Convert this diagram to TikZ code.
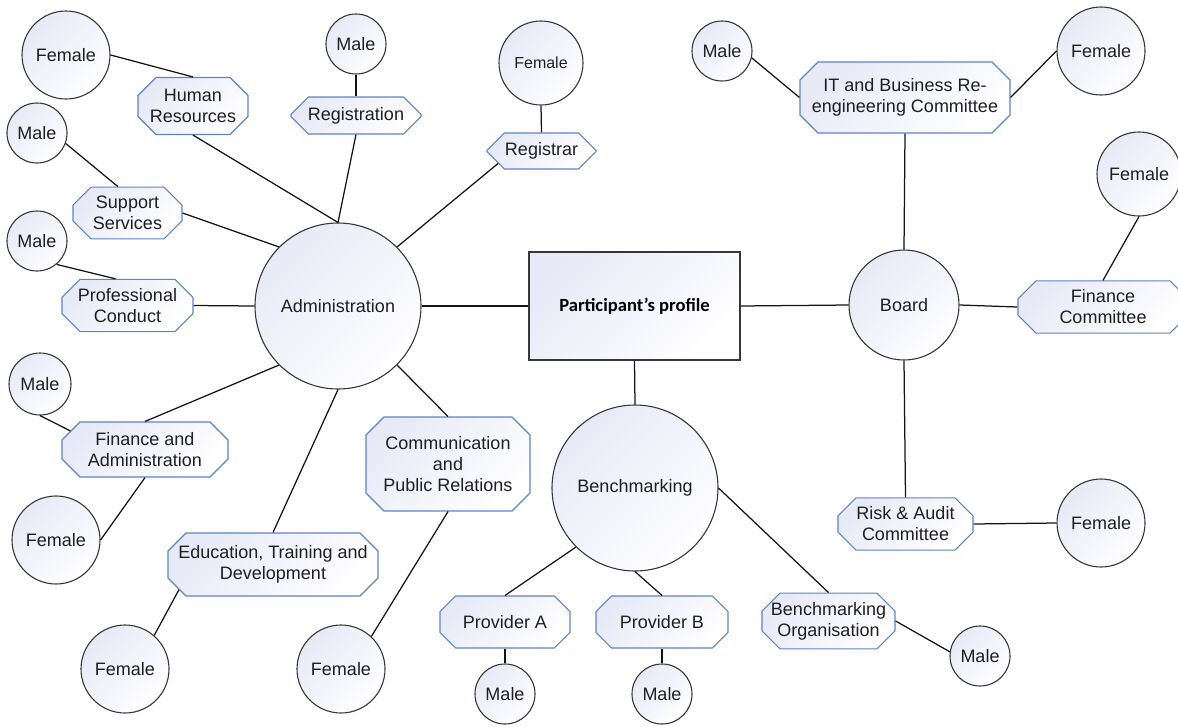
\documentclass[tikz,border=0pt]{standalone}
\usepackage{fontspec}
\setmainfont{Liberation Sans}
\newfontfamily\calib{Carlito}
\usetikzlibrary{shapes.misc}

\definecolor{octline}{RGB}{92,132,200}
\definecolor{lav}{RGB}{231,233,247}
\definecolor{ringline}{RGB}{55,55,55}
\definecolor{wire}{RGB}{20,20,20}

\tikzset{
  txt/.style={font=\fontsize{18}{21}\selectfont, text=black!88},
  ring/.style={circle, draw=ringline, line width=1.1pt, top color=lav, bottom color=white,
    shading angle=45, inner sep=0pt, txt},
  octa/.style={chamfered rectangle, chamfered rectangle xsep=9pt, chamfered rectangle ysep=9pt,
    draw=octline, line width=1.1pt, top color=lav, bottom color=white, shading angle=45,
    inner sep=0pt, align=center, txt},
  hub/.style={rectangle, draw=ringline, line width=1.1pt, top color=lav, bottom color=white,
    shading angle=45, inner sep=0pt, font=\calib\bfseries\fontsize{18.6}{21}\selectfont},
  link/.style={draw=wire, line width=1.25pt}
}

\begin{document}
\begin{tikzpicture}[x=1pt,y=-1pt]
\useasboundingbox (0,0) rectangle (1178,726);

% central profile box
\node[hub, minimum width=211pt, minimum height=108pt] (prof) at (634.5,306) {Participant’s profile};

% main circles
\node[ring, minimum size=166pt] (adm) at (338,306) {Administration};
\node[ring, minimum size=166pt] (bench) at (635,488) {Benchmarking};
\node[ring, minimum size=110pt] (board) at (904,305) {Board};

% units (octagons)
\node[octa, minimum width=110pt, minimum height=57pt] (hr) at (193,106) {Human\\Resources};
\node[octa, minimum width=130pt, minimum height=37pt] (reg) at (356,115.5) {Registration};
\node[octa, minimum width=109pt, minimum height=36pt] (regr) at (541.5,151) {Registrar};
\node[octa, minimum width=109pt, minimum height=46pt] (sup) at (127.5,213) {Support\\Services};
\node[octa, minimum width=131pt, minimum height=47pt] (pc) at (127.5,305.5) {Professional\\Conduct};
\node[octa, minimum width=166pt, minimum height=55pt] (fa) at (145,449.5) {Finance and\\Administration};
\node[octa, minimum width=164pt, minimum height=94pt] (comm) at (448,464) {Communication\\and\\Public Relations};
\node[octa, minimum width=210pt, minimum height=63pt] (edu) at (273,564.5) {Education, Training and\\Development};
\node[octa, minimum width=130pt, minimum height=52pt] (pa) at (505,622) {Provider A};
\node[octa, minimum width=132pt, minimum height=52pt] (pb) at (662,622) {Provider B};
\node[octa, minimum width=133pt, minimum height=50pt] (bo) at (828.5,621) {Benchmarking\\Organisation};
\node[octa, minimum width=135pt, minimum height=52pt] (risk) at (905.5,524) {Risk \& Audit\\Committee};
\node[octa, minimum width=170pt, minimum height=50pt] (fc) at (1103,307) {Finance\\Committee};
\node[octa, minimum width=210pt, minimum height=71pt] (it) at (905,97.5) {IT and Business Re-\\engineering Committee};

% gender circles
\node[ring, minimum size=88pt] (f1) at (66,55) {Female};
\node[ring, minimum size=60pt] (m1) at (356,44) {Male};
\node[ring, minimum size=84pt, font=\fontsize{16}{19}\selectfont] (f2) at (541,63) {Female};
\node[ring, minimum size=60pt] (m2) at (37,133) {Male};
\node[ring, minimum size=60pt] (m3) at (37,241) {Male};
\node[ring, minimum size=62pt] (m4) at (40,384) {Male};
\node[ring, minimum size=88pt] (f3) at (56,540) {Female};
\node[ring, minimum size=88pt] (f4) at (125,669) {Female};
\node[ring, minimum size=88pt] (f5) at (341,669) {Female};
\node[ring, minimum size=60pt] (m5) at (505,694) {Male};
\node[ring, minimum size=60pt] (m6) at (662,694) {Male};
\node[ring, minimum size=60pt] (m7) at (980,656) {Male};
\node[ring, minimum size=88pt] (f6) at (1101,523) {Female};
\node[ring, minimum size=84pt] (f7) at (1139,174) {Female};
\node[ring, minimum size=88pt] (f8) at (1101,51) {Female};
\node[ring, minimum size=60pt] (m8) at (722,51) {Male};

% Administration branch
\draw[link] (f1.east) -- (hr.north);
\draw[link] (hr.south) -- (adm.north);
\draw[link] (m1.south) -- (reg.north);
\draw[link] (reg.south) -- (adm.north);
\draw[link] (f2.south) -- (regr.north);
\draw[link] (regr.196) -- (adm.45);
\draw[link] (m2.-20) -- (sup.110);
\draw[link] (sup.east) -- (adm.135);
\draw[link] (m3.-50) -- (pc.114);
\draw[link] (pc.east) -- (adm.west);
\draw[link] (m4.south) -- (fa.166);
\draw[link] (fa.north) -- (adm.225);
\draw[link] (fa.south) -- (f3.east);
\draw[link] (adm.south) -- (edu.north);
\draw[link] (edu.195) -- (f4.49);
\draw[link] (adm.-45) -- (comm.north);
\draw[link] (comm.south) -- (f5.47);
\draw[link] (adm.east) -- (prof.west);

% Benchmarking branch
\draw[link] (prof.south) -- (bench.north);
\draw[link] (bench.225) -- (pa.north);
\draw[link] (bench.south) -- (pb.north);
\draw[link] (bench.east) -- (bo.north);
\draw[link] (pa.south) -- (m5.north);
\draw[link] (pb.south) -- (m6.north);
\draw[link] (bo.east) -- (m7.172);

% Board branch
\draw[link] (prof.east) -- (board.west);
\draw[link] (board.north) -- (it.south);
\draw[link] (board.south) -- (risk.north);
\draw[link] (board.east) -- (fc.west);
\draw[link] (fc.north) -- (f7.south);
\draw[link] (m8.-13) -- (it.west);
\draw[link] (it.east) -- (f8.west);
\draw[link] (risk.east) -- (f6.west);
\end{tikzpicture}
\end{document}
